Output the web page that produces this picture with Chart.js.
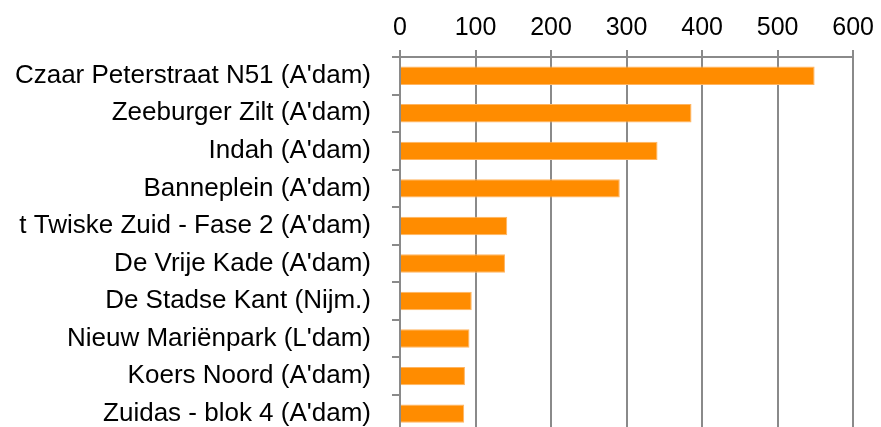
<!DOCTYPE html>
<html>
<head>
<meta charset="utf-8">
<script src="https://cdn.jsdelivr.net/npm/chart.js@4/dist/chart.umd.min.js"></script>
<style>
  html, body { margin: 0; padding: 0; background: #fff; overflow: hidden; }
  #wrap { width: 881px; height: 469px; position: relative; }
</style>
</head>
<body>
<div id="wrap"><canvas id="chart"></canvas></div>
<script>
// projecten en aantallen
const projects = [
    'Czaar Peterstraat N51 (A\'dam)',
    'Zeeburger Zilt (A\'dam)',
    'Indah (A\'dam)',
    'Banneplein (A\'dam)',
    't Twiske Zuid - Fase 2 (A\'dam)',
    'De Vrije Kade (A\'dam)',
    'De Stadse Kant (Nijm.)',
    'Nieuw Mariënpark (L\'dam)',
    'Koers Noord (A\'dam)',
    'Zuidas - blok 4 (A\'dam)'
];
const counts = [549, 386, 341, 291, 142, 139, 95, 92, 86, 85];
const xTicks = [0, 100, 200, 300, 400, 500, 600];

const gridGray = '#8a8a8a';

new Chart(document.getElementById('chart'), {
    type: 'bar',
    data: {
        labels: projects,
        datasets: [{
            data: counts,
            backgroundColor: '#ff8c00',
            borderColor: '#ffb562',
            borderWidth: 1,
            borderSkipped: 'start',
            barPercentage: 0.49,
            categoryPercentage: 1
        }]
    },
    options: {
        indexAxis: 'y',
        responsive: true,
        maintainAspectRatio: false,
        animation: false,
        layout: { padding: { top: 0, right: 21, left: 0, bottom: 0 } },
        plugins: { legend: { display: false }, tooltip: { enabled: false } },
        scales: {
            x: {
                position: 'top',
                min: xTicks[0],
                max: xTicks[xTicks.length - 1],
                afterBuildTicks: (s) => { s.ticks = xTicks.map(v => ({ value: v })); },
                afterFit: (s) => { s.height = 57; },
                grid: { color: gridGray, lineWidth: 2, tickLength: 7 },
                border: { color: gridGray, width: 2 },
                ticks: {
                    color: '#000',
                    padding: 7,
                    font: { family: '"Liberation Sans", Arial, sans-serif', size: 25 }
                }
            },
            y: {
                afterFit: (s) => { s.width = 400; },
                grid: { color: gridGray, lineWidth: 2, tickLength: 8, drawOnChartArea: false, offset: true },
                border: { color: gridGray, width: 2 },
                ticks: {
                    color: '#000',
                    padding: 21,
                    autoSkip: false,
                    font: { family: '"Liberation Sans", Arial, sans-serif', size: 26 }
                }
            }
        }
    }
});
</script>
</body>
</html>
